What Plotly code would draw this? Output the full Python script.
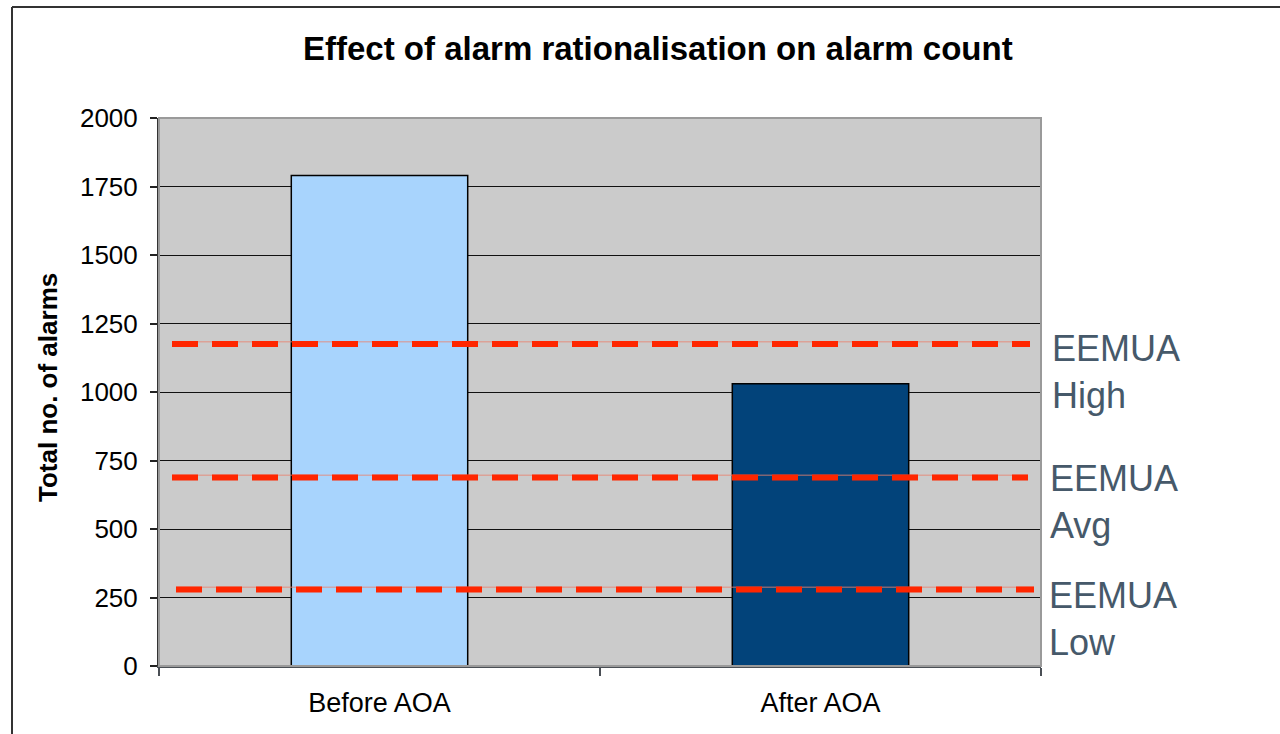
import plotly.graph_objects as go

# Alarm counts per stage
categories = ["Before AOA", "After AOA"]
alarm_counts = [1790, 1030]
bar_colors = ["#a8d4fd", "#02437a"]

# EEMUA benchmark levels
benchmark_names = ["EEMUA<br>High", "EEMUA<br>Avg", "EEMUA<br>Low"]
benchmark_values = [1175, 688, 279]

y_ticks = [0, 250, 500, 750, 1000, 1250, 1500, 1750, 2000]

FONT = "Liberation Sans, Arial, sans-serif"

# plot area in pixels: left 159, right 1041, top 118, bottom 666
W, H = 1280, 734
L, R, T, B = 159, 239, 118, 68
PW, PH = W - L - R, H - T - B


def px_x(p):
    return (p - L) / PW


def px_y(p):
    return (H - B - p) / PH


fig = go.Figure()
fig.add_trace(go.Bar(
    x=categories,
    y=alarm_counts,
    marker=dict(color=bar_colors, line=dict(color="#000000", width=1.5)),
    width=0.4,
    showlegend=False,
    hoverinfo="x+y",
))

shapes = []
annotations = []

# dashed benchmark lines with a faint guide line underneath
line_spans = [(172, 1030), (172, 1028), (176, 1034)]
label_x = [1050, 1048, 1047]
label_shift = [-28, -25, -29]
for name, val, (xa, xb), lx, sh in zip(benchmark_names, benchmark_values,
                                       line_spans, label_x, label_shift):
    shapes.append(dict(type="line", xref="paper", yref="y",
                       x0=px_x(xa), x1=px_x(xb), y0=val + 8, y1=val + 8,
                       line=dict(color="rgba(235,130,110,0.55)", width=1.5),
                       layer="above"))
    shapes.append(dict(type="line", xref="paper", yref="y",
                       x0=px_x(xa), x1=px_x(xb), y0=val, y1=val,
                       line=dict(color="#ff2600", width=6, dash="26px,14px"),
                       layer="above"))
    annotations.append(dict(text=name, xref="paper", yref="y",
                            x=px_x(lx), y=val, yshift=sh,
                            xanchor="left", yanchor="middle", align="left",
                            showarrow=False,
                            font=dict(family=FONT, size=36, color="#46596a")))

# plot-area frame (top and right edges)
shapes.append(dict(type="rect", xref="paper", yref="paper",
                   x0=0, x1=1, y0=0, y1=1,
                   line=dict(color="#9a9a9a", width=2), layer="above"))

# outer chart border
shapes.append(dict(type="line", xref="paper", yref="paper",
                   x0=px_x(12), x1=px_x(12), y0=px_y(7), y1=px_y(760),
                   line=dict(color="#333333", width=2)))
shapes.append(dict(type="line", xref="paper", yref="paper",
                   x0=px_x(12), x1=px_x(1300), y0=px_y(7), y1=px_y(7),
                   line=dict(color="#333333", width=2)))

# chart title and y-axis title
annotations.append(dict(text="<b>Effect of alarm rationalisation on alarm count</b>",
                        xref="paper", yref="paper", x=px_x(658), y=px_y(48),
                        xanchor="center", yanchor="middle", showarrow=False,
                        font=dict(family=FONT, size=33, color="#000000")))
annotations.append(dict(text="<b>Total no. of alarms</b>",
                        xref="paper", yref="paper", x=px_x(48), y=px_y(388),
                        xanchor="center", yanchor="middle", textangle=-90,
                        showarrow=False,
                        font=dict(family=FONT, size=26, color="#000000")))

fig.update_layout(
    width=W, height=H,
    margin=dict(l=L, r=R, t=T, b=B, pad=0),
    paper_bgcolor="#ffffff",
    plot_bgcolor="#cbcbcb",
    font=dict(family=FONT, color="#000000"),
    shapes=shapes,
    annotations=annotations,
    bargap=0.6,
)

fig.update_xaxes(
    type="category",
    range=[-0.5, 1.5],
    tickson="boundaries",
    ticks="outside", ticklen=8, tickwidth=2, tickcolor="#4a4f55",
    showline=True, linecolor="#4a4f55", linewidth=2,
    showgrid=False,
    tickfont=dict(family=FONT, size=27, color="#000000"),
    ticklabelstandoff=12,
)

fig.update_yaxes(
    range=[0, 2000],
    tickvals=y_ticks,
    ticktext=[str(v) for v in y_ticks],
    ticks="outside", ticklen=7, tickwidth=1.5, tickcolor="#222222",
    showline=True, linecolor="#333333", linewidth=2,
    showgrid=True, gridcolor="#111111", gridwidth=1,
    zeroline=False,
    tickfont=dict(family=FONT, size=26, color="#000000"),
    ticklabelstandoff=7,
)

fig.write_html("out.html")
